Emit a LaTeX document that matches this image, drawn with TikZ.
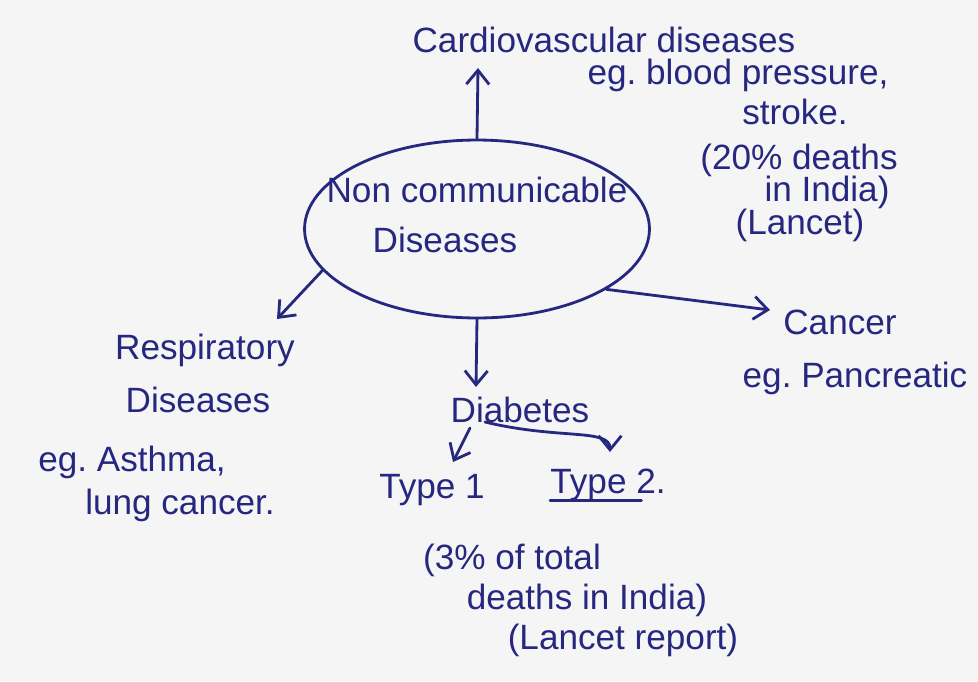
\documentclass[tikz,border=0pt]{standalone}
\usepackage{fontspec}
\setmainfont{Liberation Sans}
\usetikzlibrary{arrows.meta,shapes.geometric}
\definecolor{ink}{RGB}{38,40,128}
\definecolor{paper}{RGB}{245,245,245}
\begin{document}
\begin{tikzpicture}[x=0.02cm,y=-0.02cm,
  note/.style={text=ink,inner sep=0pt,font=\fontsize{20}{24}\selectfont},
  pen/.style={draw=ink,line width=1.6pt,line cap=round},
  arr/.style={pen,-{Straight Barb[length=8pt,width=13pt]}},
  bubble/.style={pen,ellipse,minimum width=6.9cm,minimum height=3.56cm,inner sep=0pt}]
\fill[paper] (0,0) rectangle (978,681);
\useasboundingbox (0,0) rectangle (978,681);

% central topic
\node[bubble] (ncd) at (477,229) {};
\node[note] (ncd1) at (477,190) {Non communicable};
\node[note] (ncd2) at (445,240) {Diseases};

% cardiovascular branch
\node[note] (cvd1) at (604,40) {Cardiovascular diseases};
\node[note] (cvd2) at (738,75) {eg.\ blood pressure,};
\node[note] (cvd3) at (795,112) {stroke.};
\node[note] (cvd4) at (799,160) {(20\% deaths};
\node[note] (cvd5) at (827,192) {in India)};
\node[note] (cvd6) at (800,225) {(Lancet)};
\coordinate (cvdtip) at (478,68);
\draw[arr] (ncd.north) -- (cvdtip);

% respiratory branch
\node[note] (res1) at (205,350) {Respiratory};
\node[note] (res2) at (198,400) {Diseases};
\node[note] (res3) at (132,462) {eg.\ Asthma,};
\node[note] (res4) at (180,505) {lung cancer.};
\coordinate (restip) at (277,319);
\draw[arr] (ncd.195) -- (restip);

% cancer branch
\node[note] (can1) at (840,322) {Cancer};
\node[note] (can2) at (855,378) {eg.\ Pancreatic};
\coordinate (cantip) at (770,310);
\draw[arr] (ncd.-25) -- (cantip);

% diabetes branch
\node[note] (dia) at (520,410) {Diabetes};
\coordinate (diatip) at (476,387);
\draw[arr] (ncd.south) -- (diatip);

\node[note] (ty1) at (432,490) {Type 1};
\node[note] (ty2) at (608,485) {Type 2.};
\coordinate (d1from) at (470,428);
\coordinate (ty1tip) at (453,462);
\draw[arr] (d1from) -- (ty1tip);
\coordinate (d2from) at (485,422);
\coordinate (ty2tip) at (610,452);
\draw[arr] (d2from) .. controls (560,440) and (610,428) .. (ty2tip);
\draw[pen] ([yshift=-4pt]ty2.base west) -- ([yshift=-4pt,xshift=-14pt]ty2.base east);

\node[note] (dn1) at (512,560) {(3\% of total};
\node[note] (dn2) at (587,600) {deaths in India)};
\node[note] (dn3) at (623,640) {(Lancet report)};
\end{tikzpicture}
\end{document}
